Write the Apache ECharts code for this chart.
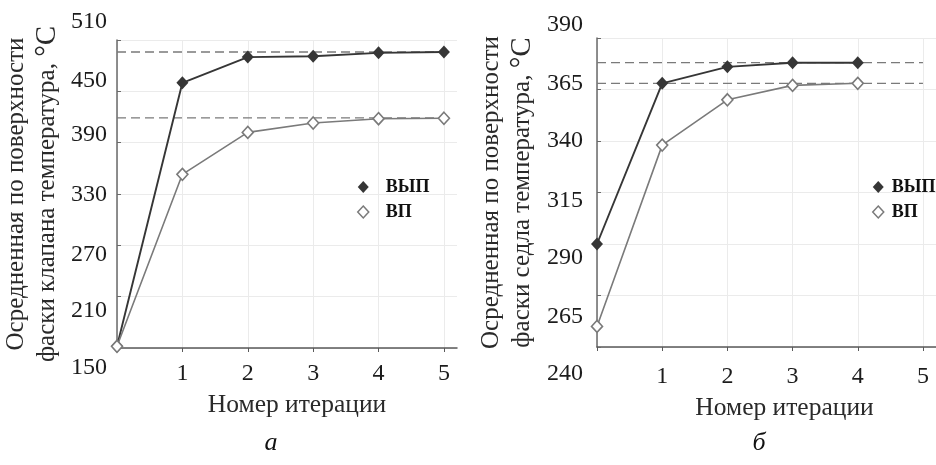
<!DOCTYPE html>
<html><head><meta charset="utf-8">
<script src="https://cdn.jsdelivr.net/npm/echarts@6/dist/echarts.min.js"></script>
<style>html,body{margin:0;padding:0;background:#fff}#c{width:936px;height:465px}</style>
</head><body><div id="c"></div>
<script>
// ---- data ----
const iterA = [0, 1, 2, 3, 4, 5];
const vypA = [152, 460, 490, 491, 495, 496];
const vpA = [152, 353, 402, 413, 418, 418.5];
const refA = [496, 419];
const iterB = [0, 1, 2, 3, 4];
const vypB = [290, 368, 376, 378, 378];
const vpB = [250, 338, 360, 367, 368];
const refB = [378, 368];
const seriesNames = ['ВЫП', 'ВП'];
const xTickLabels = [1, 2, 3, 4, 5];
const xTickMarks = [0, 1, 2, 3, 4, 5];
const yTicksA = [150, 210, 270, 330, 390, 450, 510];
const yTicksB = [240, 265, 290, 315, 340, 365, 390];
const xTitle = 'Номер итерации';
const yTitleA = ['Осредненная по поверхности', 'фаски клапана температура, ', '°C'];
const yTitleB = ['Осредненная по поверхности', 'фаски седла температура, ', '°C'];
const captions = ['а', 'б'];

// ---- style ----
const FONT = '"Liberation Serif", "DejaVu Serif", serif';
const TXT = '#1c1c1c';
const DARK = '#363636';
const LIGHT = '#7a7a7a';
const shiftA = {510: -18, 450: -11, 390: -8, 330: 1, 270: 9, 210: 14, 150: 20};
const shiftB = {390: -13, 365: -6, 340: 0, 315: 8, 290: 14, 265: 21, 240: 27};

function richFor(shift) {
  const r = {};
  Object.keys(shift).forEach(k => {
    const d = shift[k];
    r['k' + k] = {fontFamily: FONT, fontSize: 24, color: TXT,
      padding: d < 0 ? [0, 0, -2 * d, 0] : [2 * d, 0, 0, 0]};
  });
  return r;
}
const zip = (xs, ys) => ys.map((y, i) => [xs[i], y]);

function xAxisFor(idx, margin, namePadLeft, nameGap) {
  return {
    gridIndex: idx, type: 'value', min: 0, max: 5.2, interval: 1,
    name: xTitle, nameLocation: 'middle', nameGap: nameGap,
    nameTextStyle: {fontFamily: FONT, fontSize: 25.5, color: '#2a2a2a', padding: [0, 0, 0, namePadLeft]},
    axisLine: {show: true, lineStyle: {color: '#5a5a5a', width: 1.5}},
    axisTick: {show: true, inside: false, length: 4, customValues: xTickMarks, lineStyle: {color: '#5a5a5a'}},
    axisLabel: {show: true, customValues: xTickLabels, margin: margin, fontFamily: FONT, fontSize: 24, color: TXT},
    splitLine: {show: true, lineStyle: {color: '#ebebeb', width: 1}}
  };
}
function yAxisFor(idx, min, max, interval, shift, title, margin, nameGap) {
  return {
    gridIndex: idx, type: 'value', min: min, max: max, interval: interval,
    name: '{t|' + title[0] + '}\n{t|' + title[1] + '}{d|' + title[2] + '}',
    nameLocation: 'middle', nameRotate: 90, nameGap: nameGap,
    nameTextStyle: {fontFamily: FONT, fontSize: 25, lineHeight: 31, color: '#2a2a2a',
      rich: {
        t: {fontFamily: FONT, fontSize: 25, lineHeight: 31, color: '#2a2a2a'},
        d: {fontFamily: FONT, fontSize: 29, lineHeight: 31, color: '#2a2a2a'}
      }},
    axisLine: {show: true, lineStyle: {color: '#6a6a6a', width: 1.5}},
    axisTick: {show: true, inside: true, length: 4, lineStyle: {color: '#6a6a6a'}},
    axisLabel: {show: true, margin: margin, formatter: v => '{k' + v + '|' + v + '}', rich: richFor(shift),
      fontFamily: FONT, fontSize: 24, color: TXT},
    splitLine: {show: true, lineStyle: {color: '#ebebeb', width: 1}}
  };
}
function mainSeries(idx, xs, vyp, vp) {
  return [
    {name: seriesNames[0], type: 'line', xAxisIndex: idx, yAxisIndex: idx, data: zip(xs, vyp),
      symbol: 'diamond', symbolSize: [12, 13], z: 3,
      lineStyle: {color: DARK, width: 1.9}, itemStyle: {color: DARK, borderWidth: 0}},
    {name: seriesNames[1], type: 'line', xAxisIndex: idx, yAxisIndex: idx, data: zip(xs, vp),
      symbol: 'diamond', symbolSize: [11, 12], z: 3,
      lineStyle: {color: LIGHT, width: 1.6}, itemStyle: {color: '#ffffff', borderColor: LIGHT, borderWidth: 1.6}}
  ];
}
function refSeries(idx, refs) {
  return refs.map(v => ({name: 'ref', type: 'line', xAxisIndex: idx, yAxisIndex: idx,
    data: [[0, v], [5, v]], symbol: 'none', silent: true, z: 1,
    lineStyle: {color: '#7a7a7a', width: 1.3, type: [9, 5]}}));
}
function legendFor(left, textPad) {
  return {
    orient: 'vertical', left: left, top: 172, itemWidth: 11, itemHeight: 12, itemGap: 5,
    selectedMode: false,
    textStyle: {fontFamily: FONT, fontSize: 18, fontWeight: 'bold', color: '#111', lineHeight: 20, padding: [0, 0, 0, textPad]},
    data: [
      {name: seriesNames[0], icon: 'diamond', itemStyle: {color: DARK, borderWidth: 0}},
      {name: seriesNames[1], icon: 'diamond', itemStyle: {color: '#ffffff', borderColor: LIGHT, borderWidth: 1.5}}
    ]
  };
}

const chart = echarts.init(document.getElementById('c'), null, {renderer: 'canvas'});
chart.setOption({
  animation: false,
  backgroundColor: '#ffffff',
  grid: [
    {left: 117, top: 40, width: 340, height: 308, outerBoundsMode: 'none'},
    {left: 597, top: 38, width: 339, height: 309, outerBoundsMode: 'none'}
  ],
  xAxis: [xAxisFor(0, 14, 20, 44), xAxisFor(1, 18, 36, 48)],
  yAxis: [
    yAxisFor(0, yTicksA[0], yTicksA[yTicksA.length - 1], 60, shiftA, yTitleA, 10, 54),
    yAxisFor(1, yTicksB[0], yTicksB[yTicksB.length - 1], 25, shiftB, yTitleB, 14, 59)
  ],
  legend: [legendFor(352, 12), legendFor(867, 3)],
  series: [].concat(
    refSeries(0, refA), mainSeries(0, iterA, vypA, vpA),
    refSeries(1, refB), mainSeries(1, iterB, vypB, vpB)
  ),
  graphic: [
    {type: 'text', x: 271, y: 443, style: {text: captions[0], align: 'center', verticalAlign: 'middle',
      font: 'italic 26px "Liberation Serif"', fill: '#111'}},
    {type: 'text', x: 759, y: 443, style: {text: captions[1], align: 'center', verticalAlign: 'middle',
      font: 'italic 26px "Liberation Serif"', fill: '#111'}}
  ]
});
</script></body></html>
